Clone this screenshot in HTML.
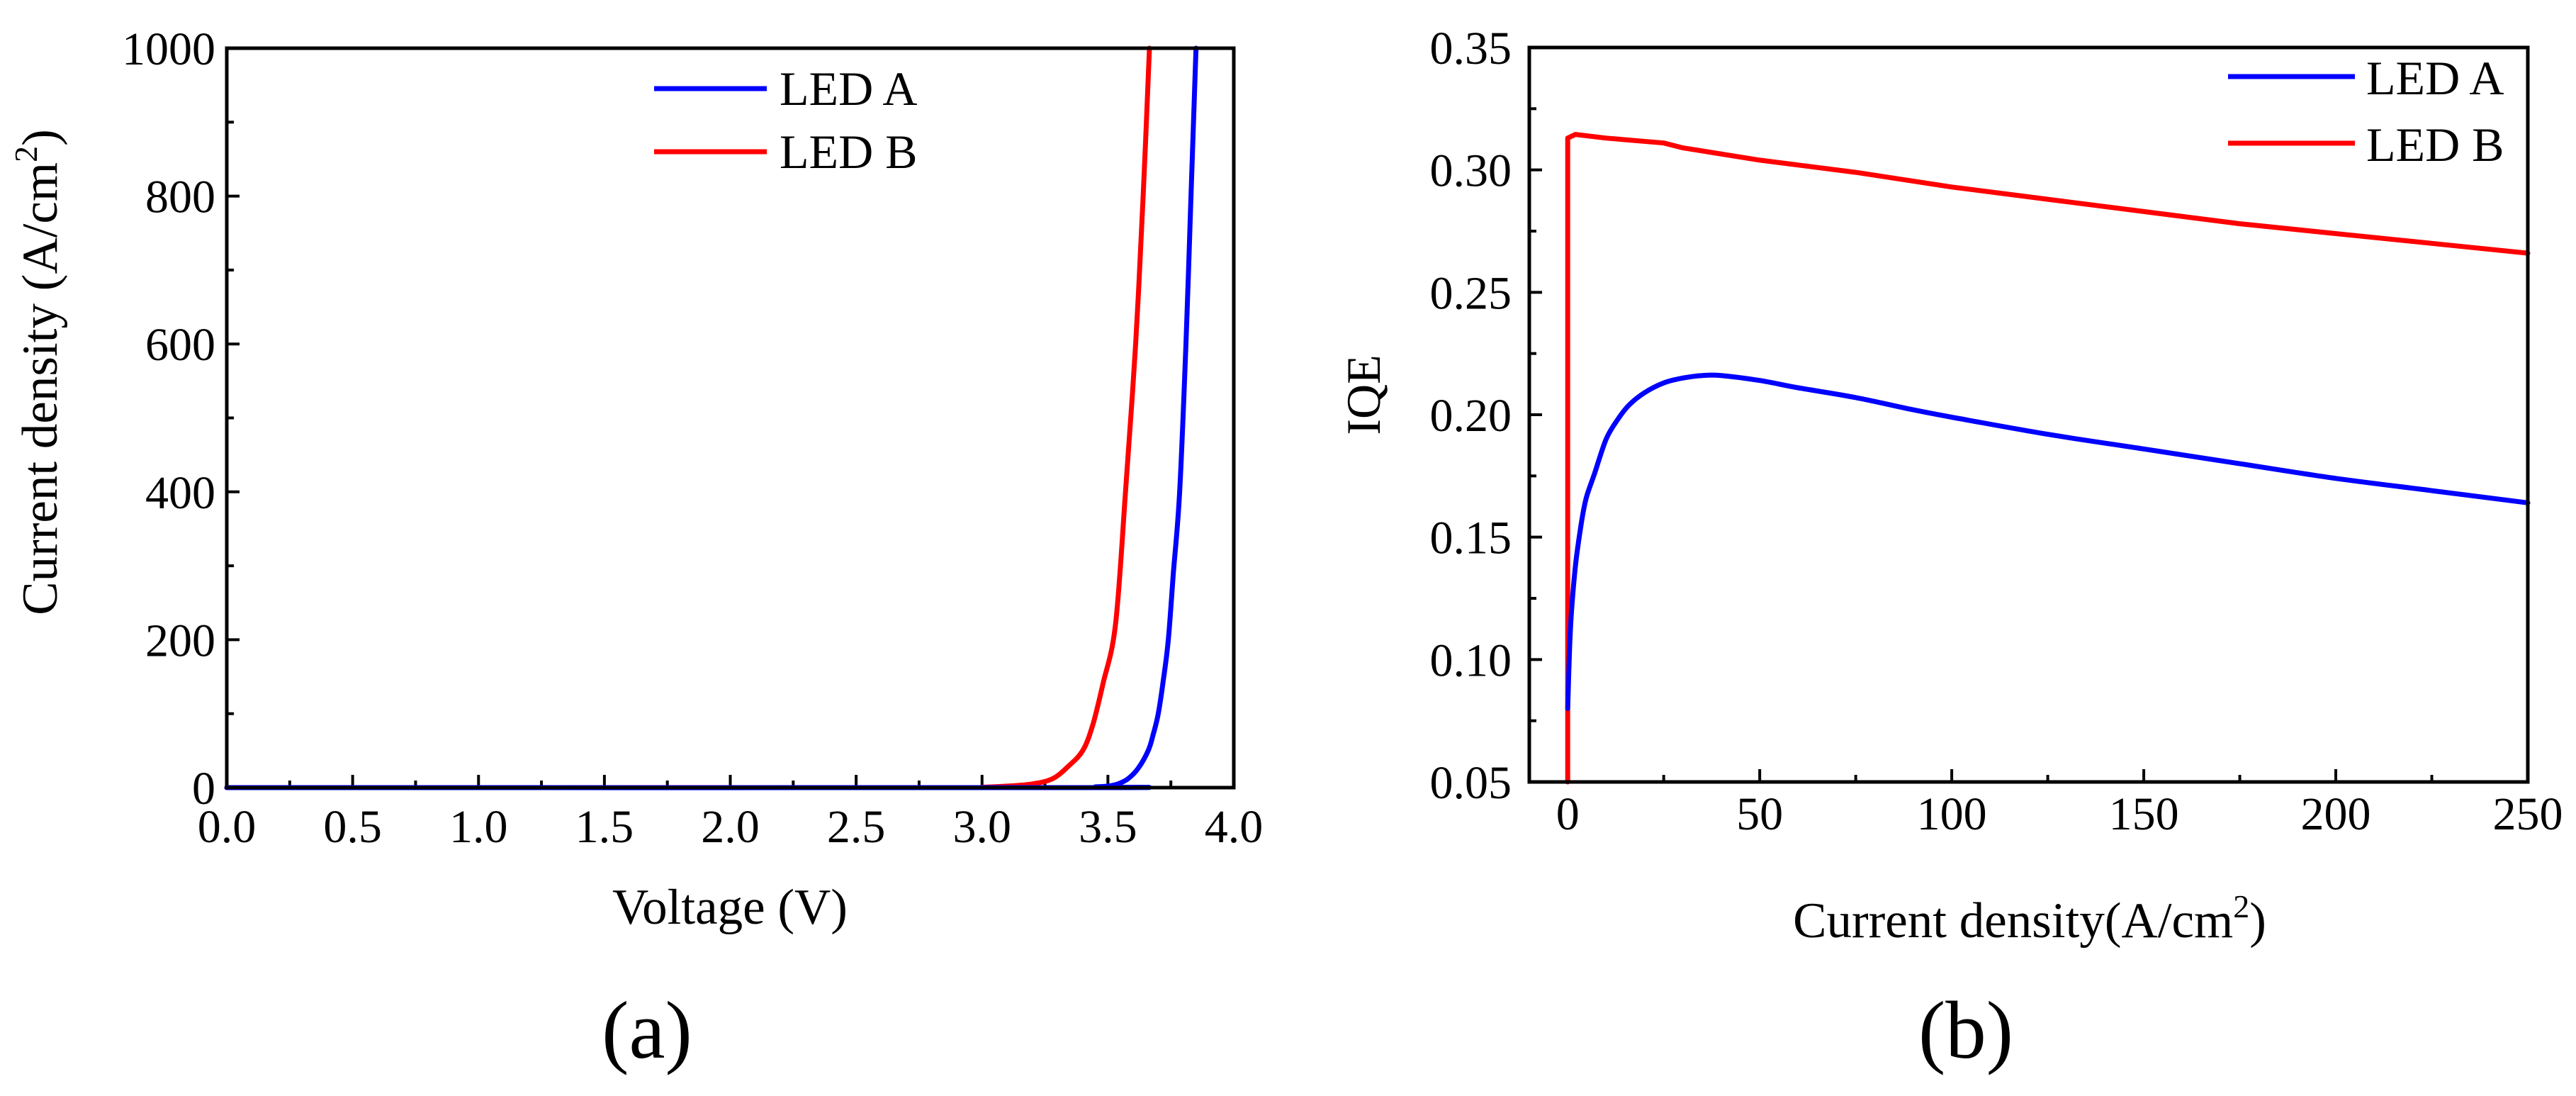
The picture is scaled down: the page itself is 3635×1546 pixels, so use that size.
<!DOCTYPE html>
<html><head><meta charset="utf-8"><style>
html,body{margin:0;padding:0;background:#fff;}
svg{display:block;font-family:"Liberation Serif",serif;}
</style></head><body>
<svg id="fig" width="3635" height="1546" viewBox="0 0 3635 1546" xmlns="http://www.w3.org/2000/svg">
<rect width="3635" height="1546" fill="#fff"/>
<g id="pa"></g>
<g id="pb"></g>
</svg>
<script>
// Panel (a) data
const aVoltA = [0, 3.40, 3.45, 3.50, 3.54, 3.58, 3.62, 3.66, 3.68, 3.70, 3.72, 3.74, 3.76, 3.785, 3.81, 3.83, 3.85];
const aCurA  = [0, 0, 1, 2, 5, 12, 26, 50, 72, 100, 145, 200, 290, 400, 600, 800, 1000];
const aVoltB = [0, 2.9, 3.0, 3.1, 3.2, 3.28, 3.34, 3.4, 3.44, 3.48, 3.53, 3.57, 3.61, 3.64, 3.665];
const aCurB  = [0, 0, 0.5, 2, 5, 12, 28, 50, 85, 140, 220, 400, 600, 800, 1000];
const aXTicks = ["0.0","0.5","1.0","1.5","2.0","2.5","3.0","3.5","4.0"];
const aYTicks = ["0","200","400","600","800","1000"];
// Panel (b) data
const bJA   = [0, 0.5, 1, 2, 3, 4, 5, 7, 10, 13, 16, 20, 25, 30, 35, 40, 50, 60, 75, 90, 100, 125, 150, 175, 200, 225, 250];
const bIqeA = [0.08, 0.105, 0.12, 0.138, 0.150, 0.160, 0.167, 0.176, 0.190, 0.198, 0.204, 0.209, 0.213, 0.215, 0.216, 0.216, 0.214, 0.211, 0.207, 0.202, 0.199, 0.192, 0.186, 0.180, 0.174, 0.169, 0.164];
const bJB   = [0, 0, 2, 10, 25, 30, 50, 75, 100, 125, 150, 175, 200, 225, 250];
const bIqeB = [0.05, 0.313, 0.3145, 0.313, 0.311, 0.309, 0.304, 0.299, 0.293, 0.288, 0.283, 0.278, 0.274, 0.270, 0.266];
const bXTicks = ["0","50","100","150","200","250"];
const bYTicks = ["0.05","0.10","0.15","0.20","0.25","0.30","0.35"];

const NS = "http://www.w3.org/2000/svg";
function mk(parent, tag, attrs, text){
  const e = document.createElementNS(NS, tag);
  for (const k in attrs) e.setAttribute(k, attrs[k]);
  if (text !== undefined) e.textContent = text;
  parent.appendChild(e);
  return e;
}
function lin(d0,d1,r0,r1){ return v => r0 + (v-d0)/(d1-d0)*(r1-r0); }
function smoothPath(pts){
  let d = 'M'+pts[0][0].toFixed(1)+','+pts[0][1].toFixed(1);
  for (let i=0;i<pts.length-1;i++){
    const p0=pts[Math.max(0,i-1)], p1=pts[i], p2=pts[i+1], p3=pts[Math.min(pts.length-1,i+2)];
    const t=1/6;
    const c1=[p1[0]+(p2[0]-p0[0])*t, p1[1]+(p2[1]-p0[1])*t];
    const c2=[p2[0]-(p3[0]-p1[0])*t, p2[1]-(p3[1]-p1[1])*t];
    d+=' C'+c1[0].toFixed(1)+','+c1[1].toFixed(1)+' '+c2[0].toFixed(1)+','+c2[1].toFixed(1)+' '+p2[0].toFixed(1)+','+p2[1].toFixed(1);
  }
  return d;
}
function linePath(pts){
  return pts.map((p,i)=>(i?'L':'M')+p[0].toFixed(1)+','+p[1].toFixed(1)).join(' ');
}

function drawPanel(g, cfg){
  const {L,R,T,B,xs,ys} = cfg;
  cfg.xMajor.forEach((v,i)=>{
    const x = xs(v);
    const t = mk(g,'line',{x1:x,x2:x,y1:B,y2:B-18,stroke:'#000','stroke-width':4});
    
    
    const lb = mk(g,'text',{x:x,y:cfg.xLabY,'font-size':66,'text-anchor':'middle'},cfg.xLabels[i]);
    
    
  });
  cfg.xMinor.forEach(v=>{
    const x = xs(v);
    const t = mk(g,'line',{x1:x,x2:x,y1:B,y2:B-10,stroke:'#000','stroke-width':4});
    
    
  });
  cfg.yMajor.forEach((v,i)=>{
    const y = ys(v);
    const t = mk(g,'line',{x1:L,x2:L+18,y1:y,y2:y,stroke:'#000','stroke-width':4});
    
    
    const lb = mk(g,'text',{x:cfg.yLabX,y:y+23,'font-size':66,'text-anchor':'end'},cfg.yLabels[i]);
    
    
  });
  cfg.yMinor.forEach(v=>{
    const y = ys(v);
    const t = mk(g,'line',{x1:L,x2:L+10,y1:y,y2:y,stroke:'#000','stroke-width':4});
    
    
  });
  cfg.series.forEach(s=>{
    const pts = s.x.map((v,i)=>[xs(v), ys(s.y[i])]);
    const d = s.smooth ? smoothPath(pts) : linePath(pts);
    const p = mk(g,'path',{d:d,fill:'none',stroke:s.color,'stroke-width':7,'stroke-linejoin':'round','stroke-linecap':'round'});
    
    
  });
  const fr = mk(g,'rect',{x:L,y:T,width:R-L,height:B-T,fill:'none',stroke:'#000','stroke-width':5});
  
  
  cfg.legend.forEach(lg=>{
    const ln = mk(g,'line',{x1:lg.x1,x2:lg.x2,y1:lg.y,y2:lg.y,stroke:lg.color,'stroke-width':7});
    
    
    const tx = mk(g,'text',{x:lg.tx,y:lg.ty,'font-size':68},lg.label);
    
    
  });
}

// Panel a
(function(){
  const g = document.getElementById('pa');
  const L=320,R=1741,T=68,B=1111;
  const xs = lin(0,4,L,R), ys = lin(0,1000,B,T);
  const xMajor=[0,0.5,1,1.5,2,2.5,3,3.5,4], xMinor=[0.25,0.75,1.25,1.75,2.25,2.75,3.25,3.75];
  const yMajor=[0,200,400,600,800,1000], yMinor=[100,300,500,700,900];
  drawPanel(g,{L,R,T,B,xs,ys,xMajor,xMinor,yMajor,yMinor,xLabels:aXTicks,yLabels:aYTicks,xLabY:1188,yLabX:304,
    series:[{x:aVoltB,y:aCurB,color:'#ff0000',name:'led-b-curve',smooth:true},{x:aVoltA,y:aCurA,color:'#0000ff',name:'led-a-curve',smooth:true}],
    legend:[{x1:923,x2:1082,y:125,color:'#0000ff',tx:1100,ty:148,label:'LED A'},
            {x1:923,x2:1082,y:214,color:'#ff0000',tx:1100,ty:237,label:'LED B'}]});
  const xt = mk(g,'text',{x:1030,y:1303,'font-size':71,'text-anchor':'middle'},'Voltage (V)');
  
  
  const yt = mk(g,'text',{x:0,y:0,'font-size':71,'text-anchor':'middle',transform:'translate(80,525) rotate(-90)'});
  
  
  mk(yt,'tspan',{},'Current density (A/cm');
  mk(yt,'tspan',{dy:-28,'font-size':46},'2');
  mk(yt,'tspan',{dy:28},')');
  const cap = mk(g,'text',{x:913,y:1492,'font-size':115,'text-anchor':'middle'},'(a)');
  
  
})();

// Panel b
(function(){
  const g = document.getElementById('pb');
  const L=2158,R=3567,T=67,B=1103;
  const xs = lin(-10,250,L,R), ys = lin(0.05,0.35,B,T);
  const xMajor=[0,50,100,150,200,250], xMinor=[25,75,125,175,225];
  const yMajor=[0.05,0.10,0.15,0.20,0.25,0.30,0.35], yMinor=[0.075,0.125,0.175,0.225,0.275,0.325];
  drawPanel(g,{L,R,T,B,xs,ys,xMajor,xMinor,yMajor,yMinor,xLabels:bXTicks,yLabels:bYTicks,xLabY:1170,yLabX:2133,
    series:[{x:bJB,y:bIqeB,color:'#ff0000',name:'led-b-curve',smooth:false},{x:bJA,y:bIqeA,color:'#0000ff',name:'led-a-curve',smooth:true}],
    legend:[{x1:3144,x2:3323,y:108,color:'#0000ff',tx:3339,ty:133,label:'LED A'},
            {x1:3144,x2:3323,y:202,color:'#ff0000',tx:3339,ty:227,label:'LED B'}]});
  const xt = mk(g,'text',{x:2864,y:1322,'font-size':71,'text-anchor':'middle'});
  
  
  mk(xt,'tspan',{},'Current density(A/cm');
  mk(xt,'tspan',{dy:-28,'font-size':46},'2');
  mk(xt,'tspan',{dy:28},')');
  const yt = mk(g,'text',{x:0,y:0,'font-size':68,'text-anchor':'middle',transform:'translate(1947,557) rotate(-90)'},'IQE');
  
  
  const cap = mk(g,'text',{x:2774,y:1492,'font-size':115,'text-anchor':'middle'},'(b)');
  
  
})();
</script>
</body></html>
